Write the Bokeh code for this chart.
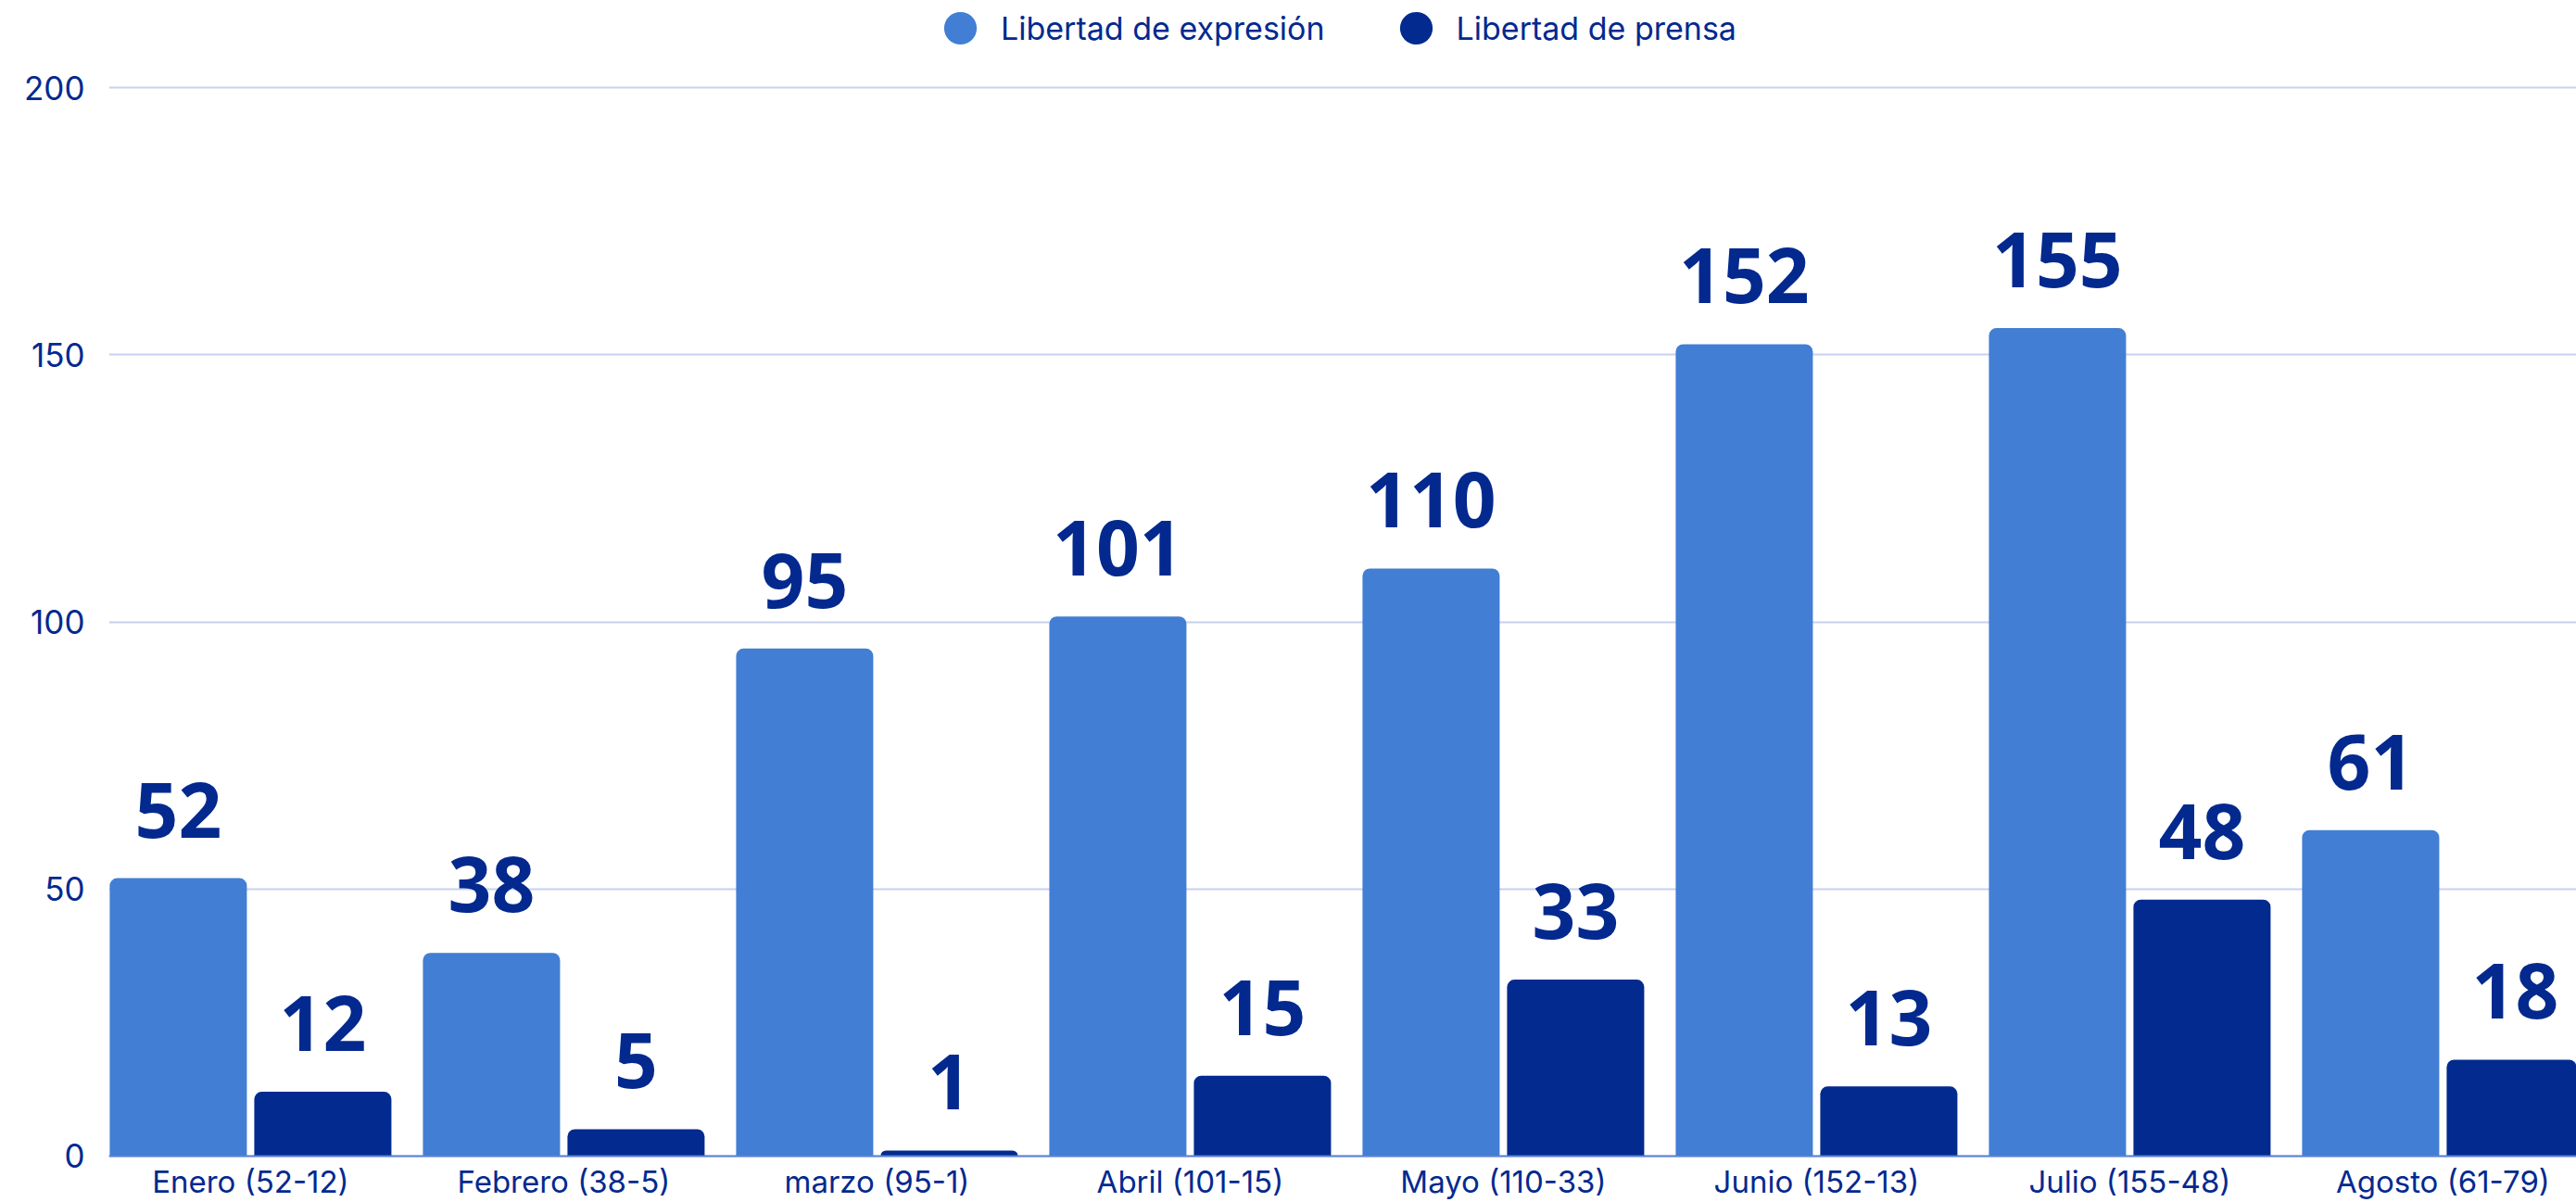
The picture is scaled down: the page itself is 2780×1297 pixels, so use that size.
from bokeh.plotting import figure
from bokeh.models import ColumnDataSource, Range1d, FixedTicker, Legend, LegendItem
from bokeh.core.properties import value
from bokeh.transform import dodge
from bokeh.embed import file_html
from bokeh.resources import INLINE

months = ["Enero (52-12)", "Febrero (38-5)", "marzo (95-1)", "Abril (101-15)",
          "Mayo (110-33)", "Junio (152-13)", "Julio (155-48)", "Agosto (61-79)"]
expresion = [52, 38, 95, 101, 110, 152, 155, 61]
prensa = [12, 5, 1, 15, 33, 13, 48, 18]
series_names = ["Libertad de expresión", "Libertad de prensa"]
y_ticks = [0, 50, 100, 150, 200]

LIGHT = "#427ED4"
DARK = "#022A8F"
TEXT = "#03298F"

idx = list(range(len(months)))
src = ColumnDataSource(dict(
    x=idx,
    exp=expresion,
    pre=prensa,
    exp_lbl=[str(v) for v in expresion],
    pre_lbl=[str(v) for v in prensa],
))

p = figure(width=2780, height=1297, output_backend="svg", toolbar_location=None,
           x_range=Range1d(-0.4524, 7.4263), y_range=Range1d(-8.73, 216.37),
           min_border_left=117, min_border_right=0, min_border_top=0, min_border_bottom=0)
p.outline_line_color = None
p.background_fill_color = "white"
p.border_fill_color = "white"

off = 78 / 338.0
bw = 148 / 338.0
p.vbar(x=dodge("x", -off), top="exp", width=bw, source=src,
       fill_color=LIGHT, line_color=None, border_radius=(8, 8, 0, 0))
p.vbar(x=dodge("x", off), top="pre", width=bw, source=src,
       fill_color=DARK, line_color=None, border_radius=(8, 8, 0, 0))

lbl_kw = dict(text_font=value("Open Sans"), text_font_style="bold", text_font_size="82px",
              text_color=TEXT, text_align="center", text_baseline="alphabetic", y_offset=-74)
p.text(x=dodge("x", -off), y="exp", text="exp_lbl", source=src, **lbl_kw)
p.text(x=dodge("x", off), y="pre", text="pre_lbl", source=src, **lbl_kw)

# legend proxies (zero-size points, only their legend glyphs show)
l1 = p.scatter(x=dodge("x", -off), y="exp", source=src, size=0, marker="circle",
               fill_color=LIGHT, line_color=None)
l2 = p.scatter(x=dodge("x", off), y="pre", source=src, size=0, marker="circle",
               fill_color=DARK, line_color=None)
legend = Legend(items=[LegendItem(label=series_names[0], renderers=[l1]),
                       LegendItem(label=series_names[1], renderers=[l2])],
                orientation="horizontal", location=(875, 1223),
                glyph_width=88, glyph_height=88, label_standoff=-30, spacing=54,
                padding=0, margin=0, border_line_color=None, background_fill_alpha=0,
                label_text_font="Inter", label_text_font_size="34px", label_text_color=TEXT)
p.add_layout(legend, "center")

# axes
p.xaxis.fixed_location = 0
p.xaxis.ticker = FixedTicker(ticks=idx)
p.xaxis.major_label_overrides = {i: m for i, m in zip(idx, months)}
p.xaxis.major_tick_line_color = None
p.xaxis.major_tick_out = 0
p.xaxis.major_tick_in = 0
p.xaxis.minor_tick_line_color = None
p.xaxis.minor_tick_out = 0
p.xaxis.axis_line_color = "#5B82D5"
p.xaxis.axis_line_width = 2
p.xaxis.major_label_standoff = 8
p.xaxis.major_label_text_font = "Inter"
p.xaxis.major_label_text_font_size = "33px"
p.xaxis.major_label_text_color = TEXT

p.yaxis.ticker = FixedTicker(ticks=y_ticks)
p.yaxis.major_tick_line_color = None
p.yaxis.major_tick_out = 0
p.yaxis.major_tick_in = 0
p.yaxis.minor_tick_line_color = None
p.yaxis.minor_tick_out = 0
p.yaxis.axis_line_color = None
p.yaxis.major_label_standoff = 26
p.yaxis.major_label_text_font = "Inter"
p.yaxis.major_label_text_font_size = "35px"
p.yaxis.major_label_text_color = TEXT

p.xgrid.grid_line_color = None
p.ygrid.ticker = FixedTicker(ticks=y_ticks)
p.ygrid.grid_line_color = "#C8D1EE"
p.ygrid.grid_line_width = 2

open("out.html", "w").write(file_html(p, INLINE))
